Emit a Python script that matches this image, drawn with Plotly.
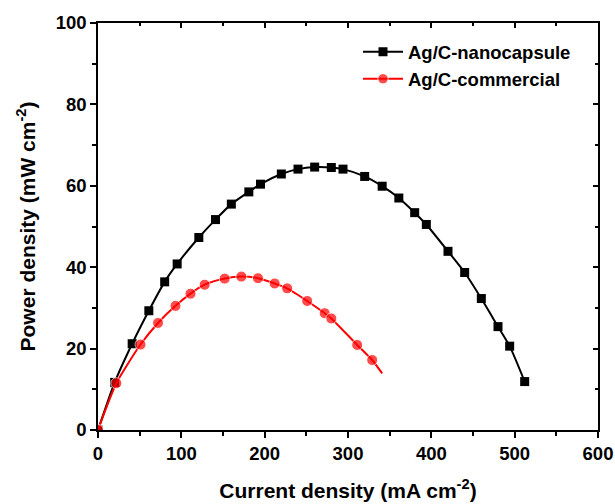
import plotly.graph_objects as go

# Ag/C-nanocapsule
nano_x = [0, 20, 41, 61, 80, 95, 121, 141, 160, 181, 195, 220, 240, 260, 280, 294, 320, 341, 361, 380, 394, 420, 440, 460, 480, 494, 512]
nano_y = [0, 11.7, 21.2, 29.3, 36.4, 40.8, 47.3, 51.7, 55.5, 58.5, 60.4, 62.9, 64.1, 64.6, 64.5, 64.1, 62.3, 59.9, 57.0, 53.4, 50.5, 43.9, 38.7, 32.3, 25.4, 20.6, 11.9]

# Ag/C-commercial (last point: end of fitted line, no marker)
comm_x = [0, 22, 51, 72, 93, 111, 128, 152, 172, 192, 212, 227, 251, 272, 280, 311, 329, 341]
comm_y = [0, 11.5, 21.0, 26.3, 30.5, 33.5, 35.7, 37.2, 37.7, 37.3, 36.0, 34.8, 31.7, 28.7, 27.4, 20.9, 17.2, 13.9]
comm_marker = [11] * (len(comm_x) - 1) + [0]

x_ticks = [0, 100, 200, 300, 400, 500, 600]
y_ticks = [0, 20, 40, 60, 80, 100]

FONT = "Arial, Liberation Sans, sans-serif"

fig = go.Figure()
fig.add_trace(go.Scatter(
    x=nano_x, y=nano_y, mode="lines+markers", name="<b>Ag/C-nanocapsule</b>",
    line=dict(color="black", width=2, shape="spline", smoothing=0.6),
    marker=dict(symbol="square", size=9, color="black"),
))
fig.add_trace(go.Scatter(
    x=comm_x, y=comm_y, mode="lines+markers", name="<b>Ag/C-commercial</b>",
    line=dict(color="#ff0000", width=2, shape="spline", smoothing=0.6),
    marker=dict(symbol="circle", size=comm_marker, color="#ff0000"),
))
# invisible trace for mirrored inner-tick axes
fig.add_trace(go.Scatter(x=[0], y=[0], xaxis="x2", yaxis="y2", mode="markers",
                         marker=dict(opacity=0), showlegend=False, hoverinfo="skip"))

axis_common = dict(showgrid=False, zeroline=False, showline=True, linecolor="black", linewidth=1.5,
                   ticks="outside", tickcolor="black", tickwidth=1.5, ticklen=6, automargin=False,
                   tickfont=dict(family=FONT, size=18.5, color="black"))

fig.update_layout(
    width=615, height=504,
    margin=dict(l=98, r=17, t=23, b=74),
    plot_bgcolor="white", paper_bgcolor="white",
    font=dict(family=FONT, color="black"),
    xaxis=dict(range=[0, 600], tickvals=x_ticks, ticktext=[f"<b>{v}</b>" for v in x_ticks],
               minor=dict(dtick=50, ticks="outside", ticklen=4, tickcolor="black", tickwidth=1.5),
               title=dict(text="<b>Current density (mA cm<sup>-2</sup>)</b>",
                          font=dict(family=FONT, size=21, color="black"), standoff=20),
               **axis_common),
    yaxis=dict(range=[0, 100], tickvals=y_ticks, ticktext=[f"<b>{v}</b>" for v in y_ticks],
               minor=dict(dtick=10, ticks="outside", ticklen=4, tickcolor="black", tickwidth=1.5),
               title=dict(text="<b>Power density (mW cm<sup>-2</sup>)</b>",
                          font=dict(family=FONT, size=21, color="black"), standoff=14),
               **axis_common),
    xaxis2=dict(overlaying="x", side="top", range=[0, 600], showgrid=False, zeroline=False,
                showline=True, linecolor="black", linewidth=1.5, ticks="inside", tickvals=x_ticks,
                ticklen=5, tickcolor="black", tickwidth=1.5, showticklabels=False, automargin=False,
                minor=dict(dtick=50, ticks="inside", ticklen=3, tickcolor="black", tickwidth=1.5)),
    yaxis2=dict(overlaying="y", side="right", range=[0, 100], showgrid=False, zeroline=False,
                showline=True, linecolor="black", linewidth=1.5, ticks="inside", tickvals=y_ticks,
                ticklen=5, tickcolor="black", tickwidth=1.5, showticklabels=False, automargin=False,
                minor=dict(dtick=10, ticks="inside", ticklen=3, tickcolor="black", tickwidth=1.5)),
    legend=dict(x=0.52, y=0.975, xanchor="left", yanchor="top", bgcolor="rgba(0,0,0,0)",
                font=dict(family=FONT, size=18.5, color="black"), tracegroupgap=0, itemwidth=40),
    showlegend=True,
)

fig.write_html("out.html")
